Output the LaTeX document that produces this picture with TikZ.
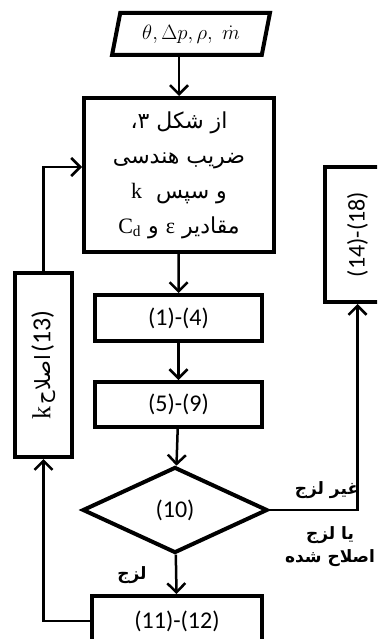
\documentclass[tikz,border=0pt]{standalone}
\usepackage{fontspec}
\usepackage{graphicx}
\setmainfont{Carlito}
\newfontfamily\arabicfont[Script=Arabic]{DejaVu Sans}
\newfontfamily\serifgr{Liberation Serif}
\TeXXeTstate=1
\usetikzlibrary{shapes.geometric,arrows.meta}

\begin{document}
\begin{tikzpicture}[x=1pt,y=-1pt,
    box/.style={draw, line width=4pt, inner sep=0pt, align=center},
    arr/.style={line width=2.5pt, -{Straight Barb[length=9pt,width=18pt]}},
    num/.style={font=\fontsize{24}{28}\selectfont},
    fa/.style={font=\arabicfont\fontsize{22}{35}\selectfont},
    lbl/.style={font=\arabicfont\bfseries\fontsize{17}{23}\selectfont, align=center}]
    \useasboundingbox (0,0) rectangle (377,639);
    \clip (0,0) rectangle (377,639);

    % input data
    \node[box, shape=trapezium, trapezium left angle=73, trapezium right angle=107,
        trapezium stretches=true, minimum width=158, minimum height=42,
        font=\fontsize{21}{24}\selectfont] (in) at (191,34)
        {$\theta,\Delta p,\rho,\;\dot{m}$};

    % main column
    \node[box, fa, minimum width=190, minimum height=154] (cfg) at (179,175)
        {\beginR از شکل ۳،\endR\\
         \beginR ضریب هندسی\endR\\
         \beginR و سپس \ {\serifgr k}\endR\\
         \beginR مقادیر {\serifgr ε} و \beginL{\serifgr C\textsubscript{d}}\endL\endR};
    \node[box, num, minimum width=167, minimum height=46] (b14) at (178.5,318) {(1)-(4)};
    \node[box, num, minimum width=167, minimum height=45] (b59) at (178.5,404.5) {(5)-(9)};
    \node[box, shape=diamond, num, minimum width=185, minimum height=86, aspect=2.15] (dec) at (175,510) {(10)};
    \node[box, num, minimum width=170, minimum height=50] (b1112) at (177,621) {(11)-(12)};

    % side boxes
    \node[box, minimum width=57, minimum height=184] (b13) at (43.5,365)
        {\rotatebox{90}{\beginR\beginL{\fontsize{26}{30}\selectfont (13)}\endL\,{\arabicfont\fontsize{21}{24}\selectfont اصلاح}\ {\serifgr\fontsize{26}{30}\selectfont k}\endR}};
    \node[box, num, minimum width=65, minimum height=135] (b1418) at (357.5,234.5)
        {\rotatebox{90}{(14)-(18)}};

    % labels
    \node[lbl] (nv) at (327,490) {\beginR غیر لزج\endR};
    \node[lbl] (vm) at (330,547) {\beginR یا لزج\endR\\\beginR اصلاح شده\endR};
    \node[lbl] (vs) at (132,575) {\beginR لزج\endR};

    % connectors
    \draw[arr] (cfg.north |- in.south) -- (cfg.north);
    \draw[arr] (cfg) -- (b14);
    \draw[arr] (b14) -- (b59);
    \draw[arr] (b59) -- (dec);
    \draw[arr] (dec) -- (b1112);
    \draw[arr] (dec.east) -| (b1418.south);
    \draw[arr] (b1112.west) -| (b13.south);
    \draw[arr] (b13.north) |- ([yshift=8pt]cfg.west);
\end{tikzpicture}
\end{document}
